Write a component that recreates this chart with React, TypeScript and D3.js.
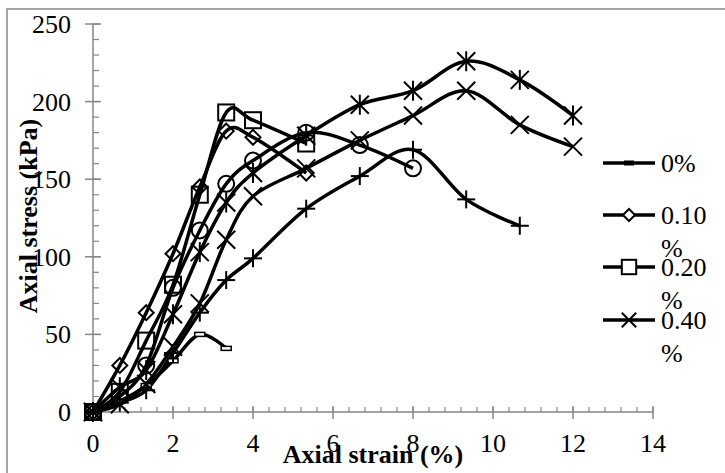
import React from 'react';
import * as d3 from 'd3';

const strains = [0, 0.67, 1.33, 2, 2.67, 3.33, 4, 5.33, 6.67, 8, 9.33, 10.67, 12];
const stress0 = [0, 7, 17, 33, 50, 41];
const stress010 = [0, 30, 64, 102, 145, 181, 177, 154];
const stress020 = [0, 13, 46, 82, 140, 193, 188, 173];
const stress040 = [0, 5, 18, 42, 70, 111, 139, 157, 175, 191, 207, 185, 171];
const stressCircle = [0, 10, 30, 80, 117, 147, 162, 180, 172, 157];
const stressPlus = [0, 6, 14, 38, 64, 85, 99, 131, 152, 169, 137, 120];
const stressStar = [0, 16, 27, 63, 103, 135, 154, 178, 198, 207, 226, 214, 191];

const seriesMarkers = ['dash', 'diamond', 'square', 'x', 'circle', 'plus', 'star'];
const seriesValues = [stress0, stress010, stress020, stress040, stressCircle, stressPlus, stressStar];
const legendLabels = [['0%'], ['0.10', '%'], ['0.20', '%'], ['0.40', '%']];
const xTicks = [0, 2, 4, 6, 8, 10, 12, 14];
const yTicks = [0, 50, 100, 150, 200, 250];

const FONT = '"Liberation Serif", "Times New Roman", Times, serif';

function Marker({ type, x, y, legend }: { type: string; x: number; y: number; legend?: boolean }) {
  const fill = legend ? 'white' : 'none';
  const sw = 2;
  const k = legend ? 0.8 : 1;
  switch (type) {
    case 'dash':
      return legend ? (
        <rect x={x - 5} y={y - 2.5} width={10} height={5} fill="black" />
      ) : (
        <rect x={x - 5} y={y - 2} width={10} height={4} fill="white" stroke="black" strokeWidth={1.5} />
      );
    case 'diamond': {
      const r = 7.5 * k;
      return <path d={`M${x},${y - r}L${x + r},${y}L${x},${y + r}L${x - r},${y}Z`} fill={fill} stroke="black" strokeWidth={sw} />;
    }
    case 'square': {
      const r = 8 * (legend ? 0.9 : 1);
      return <rect x={x - r} y={y - r} width={2 * r} height={2 * r} fill={fill} stroke="black" strokeWidth={sw} />;
    }
    case 'circle':
      return <circle cx={x} cy={y} r={8 * k} fill={fill} stroke="black" strokeWidth={sw} />;
    case 'x': {
      const r = 9 * k;
      return (
        <g stroke="black" strokeWidth={sw}>
          <line x1={x - r} y1={y - r} x2={x + r} y2={y + r} />
          <line x1={x - r} y1={y + r} x2={x + r} y2={y - r} />
        </g>
      );
    }
    case 'plus':
      return (
        <g stroke="black" strokeWidth={sw}>
          <line x1={x - 9} y1={y} x2={x + 9} y2={y} />
          <line x1={x} y1={y - 9} x2={x} y2={y + 9} />
        </g>
      );
    case 'star':
      return (
        <g stroke="black" strokeWidth={sw}>
          <line x1={x - 9} y1={y - 9} x2={x + 9} y2={y + 9} />
          <line x1={x - 9} y1={y + 9} x2={x + 9} y2={y - 9} />
          <line x1={x} y1={y - 10} x2={x} y2={y + 10} />
        </g>
      );
    default:
      return null;
  }
}

export default function App() {
  const x = d3.scaleLinear().domain([0, 14]).range([93, 653]);
  const y = d3.scaleLinear().domain([0, 250]).range([412, 24]);
  const line = d3
    .line<[number, number]>()
    .x((d) => x(d[0]))
    .y((d) => y(d[1]))
    .curve(d3.curveCardinal.tension(0));

  const axisColor = '#868686';
  const xMinor = d3.range(0, 14.001, 0.4);
  const yMinor = d3.range(0, 250.001, 10);

  const series = seriesValues.map((vals, i) => ({
    marker: seriesMarkers[i],
    pts: vals.map((v, j) => [strains[j], v] as [number, number]),
  }));

  const legendY = [163, 215, 267, 320];
  const fs = 26;

  return (
    <svg width={725} height={473} style={{ position: 'absolute', left: 0, top: 0, background: 'white' }} fontFamily={FONT}>
      <rect x={0} y={0} width={725} height={473} fill="white" />
      <rect x={7} y={9} width={740} height={490} fill="none" stroke="#898989" strokeWidth={1.5} />

      {/* axes */}
      <line x1={x(0)} y1={y(0)} x2={x(14)} y2={y(0)} stroke={axisColor} strokeWidth={1.5} />
      <line x1={x(0)} y1={y(0)} x2={x(0)} y2={y(250)} stroke={axisColor} strokeWidth={1.5} />
      {xMinor.map((t, i) => (
        <line key={'xm' + i} x1={x(t)} x2={x(t)} y1={y(0) - 5} y2={y(0)} stroke={axisColor} strokeWidth={1.2} />
      ))}
      {xTicks.map((t) => (
        <line key={'xt' + t} x1={x(t)} x2={x(t)} y1={y(0) - 6} y2={y(0) + 7} stroke={axisColor} strokeWidth={1.5} />
      ))}
      {yMinor.map((t, i) => (
        <line key={'ym' + i} x1={x(0)} x2={x(0) + 6} y1={y(t)} y2={y(t)} stroke={axisColor} strokeWidth={1.2} />
      ))}
      {yTicks.map((t) => (
        <line key={'yt' + t} x1={x(0) - 8} x2={x(0) + 8} y1={y(t)} y2={y(t)} stroke={axisColor} strokeWidth={1.5} />
      ))}
      {xTicks.map((t) => (
        <text key={'xl' + t} x={x(t)} y={452} textAnchor="middle" fontSize={fs} fill="black">
          {t}
        </text>
      ))}
      {yTicks.map((t) => (
        <text key={'yl' + t} x={71} y={y(t) + 9} textAnchor="end" fontSize={fs} fill="black">
          {t}
        </text>
      ))}

      {/* series */}
      {series.map((s, i) => (
        <path key={'l' + i} d={line(s.pts) || ''} fill="none" stroke="black" strokeWidth={3.5} />
      ))}
      {series.map((s, i) => (
        <g key={'m' + i}>
          {s.pts.map((p, j) => (
            <Marker key={j} type={s.marker} x={x(p[0])} y={y(p[1])} />
          ))}
        </g>
      ))}

      {/* axis titles */}
      <text x={373} y={463} textAnchor="middle" fontSize={fs} fontWeight="bold" fill="black">
        Axial strain (%)
      </text>
      <text
        transform={`translate(37, 216) rotate(-90)`}
        textAnchor="middle"
        fontSize={fs}
        fontWeight="bold"
        fill="black"
      >
        Axial stress (kPa)
      </text>

      {/* legend */}
      {legendLabels.map((lab, i) => (
        <g key={'lg' + i}>
          <line x1={603} x2={655} y1={legendY[i]} y2={legendY[i]} stroke="black" strokeWidth={3.5} />
          <Marker type={seriesMarkers[i]} x={629} y={legendY[i]} legend />
          {lab.map((t, k) => (
            <text key={k} x={661} y={legendY[i] + 9 + k * 33} fontSize={fs} fill="black">
              {t}
            </text>
          ))}
        </g>
      ))}
    </svg>
  );
}
